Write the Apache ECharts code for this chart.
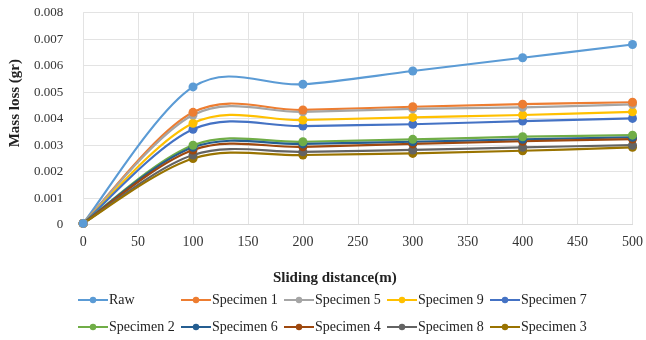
<!DOCTYPE html>
<html><head><meta charset="utf-8">
<script src="https://cdn.jsdelivr.net/npm/echarts@6/dist/echarts.min.js"></script>
<style>html,body{margin:0;padding:0;background:#fff}#c{width:646px;height:340px}</style>
</head><body><div id="c"></div>
<script>
const distances = [0, 100, 200, 300, 400, 500];
const seriesNames = ['Raw','Specimen 1','Specimen 5','Specimen 9','Specimen 7','Specimen 2','Specimen 6','Specimen 4','Specimen 8','Specimen 3'];
const raw        = [0.00005, 0.0052, 0.0053, 0.0058, 0.0063, 0.0068];
const specimen1  = [0.00005, 0.00424, 0.00433, 0.00445, 0.00455, 0.00462];
const specimen5  = [0.00005, 0.00414, 0.00426, 0.00437, 0.00443, 0.00454];
const specimen9  = [0.00005, 0.00383, 0.00395, 0.00405, 0.00414, 0.00426];
const specimen7  = [0.00005, 0.0036, 0.00372, 0.00379, 0.00391, 0.00401];
const specimen2  = [0.00005, 0.0030, 0.00313, 0.00322, 0.00332, 0.00338];
const specimen6  = [0.00005, 0.00292, 0.00305, 0.00313, 0.00322, 0.0033];
const specimen4  = [0.00005, 0.00282, 0.00294, 0.00305, 0.00315, 0.00323];
const specimen8  = [0.00005, 0.00263, 0.00275, 0.00282, 0.00292, 0.0030];
const specimen3  = [0.00005, 0.0025, 0.00263, 0.00269, 0.00279, 0.00292];
const seriesValues = [raw, specimen1, specimen5, specimen9, specimen7, specimen2, specimen6, specimen4, specimen8, specimen3];
const yTicks = [0, 0.001, 0.002, 0.003, 0.004, 0.005, 0.006, 0.007, 0.008];
const colors = ['#5B9BD5','#ED7D31','#A5A5A5','#FFC000','#4472C4','#70AD47','#255E91','#9E480E','#636363','#997300'];

const font = 'Liberation Serif';
const legendCols = [[0,5],[1,6],[2,7],[3,8],[4,9]];
const legendLeft = [77, 180, 283, 386, 489];
const legends = legendCols.map((pair, i) => ({
  orient: 'vertical', left: legendLeft[i], top: 293, itemGap: 13,
  itemWidth: 30, itemHeight: 8, padding: 0,
  data: pair.map(k => seriesNames[k]),
  lineStyle: {opacity: 1, width: 2},
  textStyle: {fontFamily: font, fontSize: 14, color: '#222', padding: [0,0,0,-4]}
}));

// Excel-like smoothed curve (Catmull-Rom Bezier) through the data points, positioned via api.coord
function curveRenderer(vals, color) {
  return function (params, api) {
    const pts = distances.map((d, j) => api.coord([d, vals[j]]));
    let p = 'M' + pts[0][0] + ' ' + pts[0][1];
    for (let i = 0; i < pts.length - 1; i++) {
      const p0 = pts[Math.max(i - 1, 0)], p1 = pts[i], p2 = pts[i + 1], p3 = pts[Math.min(i + 2, pts.length - 1)];
      const c1 = [p1[0] + (p2[0] - p0[0]) / 6, p1[1] + (p2[1] - p0[1]) / 6];
      const c2 = [p2[0] - (p3[0] - p1[0]) / 6, p2[1] - (p3[1] - p1[1]) / 6];
      p += ' C' + c1[0] + ' ' + c1[1] + ' ' + c2[0] + ' ' + c2[1] + ' ' + p2[0] + ' ' + p2[1];
    }
    return {type: 'path', shape: {pathData: p}, style: {fill: 'none', stroke: color, lineWidth: 2.2}};
  };
}

const series = [];
seriesNames.forEach((name, i) => {
  series.push({
    name: name + ' curve', type: 'custom', coordinateSystem: 'cartesian2d',
    data: [[distances[0], seriesValues[i][0]]],
    renderItem: curveRenderer(seriesValues[i], colors[i]),
    z: 2, silent: true
  });
});
seriesNames.forEach((name, i) => {
  series.push({
    name, type: 'line',
    data: distances.map((d, j) => [d, seriesValues[i][j]]),
    symbol: 'circle', symbolSize: 9,
    itemStyle: {color: colors[i]},
    lineStyle: {width: 2, opacity: 0, color: colors[i]},
    z: 20 - i
  });
});

const chart = echarts.init(document.getElementById('c'));
chart.setOption({
  animation: false,
  legend: legends,
  grid: {left: 82, right: 8, top: 12.7, bottom: 115.3, containLabel: false},
  xAxis: {
    type: 'value', min: 0, max: 500, interval: 50,
    name: 'Sliding distance(m)', nameLocation: 'middle', nameGap: 46,
    nameTextStyle: {fontFamily: font, fontSize: 15, fontWeight: 'bold', color: '#222', padding: [0, 46, 0, 0]},
    axisLine: {show: true, lineStyle: {color: '#d9d9d9'}},
    axisTick: {show: false},
    axisLabel: {fontFamily: font, fontSize: 14, color: '#333', margin: 11},
    splitLine: {show: true, lineStyle: {color: '#e3e3e3'}}
  },
  yAxis: {
    type: 'value', min: 0, max: 0.008, interval: 0.001,
    name: 'Mass loss (gr)', nameLocation: 'middle', nameGap: 60, nameRotate: 90,
    nameTextStyle: {fontFamily: font, fontSize: 15, fontWeight: 'bold', color: '#222', padding: [0, 0, 0, 31]},
    axisLine: {show: false}, axisTick: {show: false},
    axisLabel: {fontFamily: font, fontSize: 13, color: '#333', margin: 20,
      formatter: v => { const t = yTicks.find(x => Math.abs(x - v) < 1e-9); return t === 0 ? '0' : (t !== undefined ? t.toFixed(3) : v.toFixed(3)); }},
    splitLine: {show: true, lineStyle: {color: '#e3e3e3'}}
  },
  series
});
</script></body></html>
